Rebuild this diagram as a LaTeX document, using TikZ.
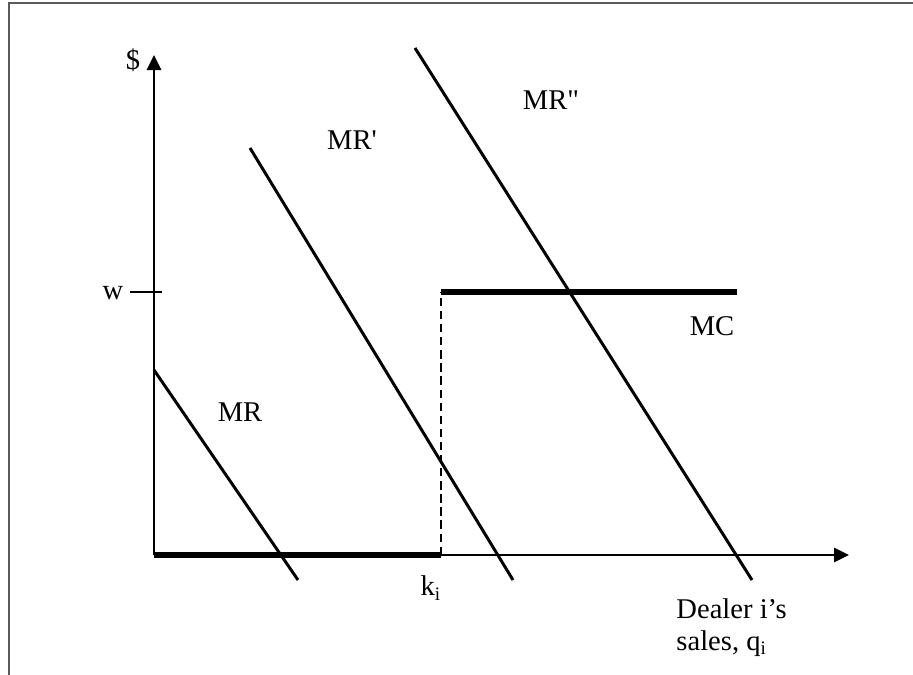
\documentclass[tikz,border=0pt]{standalone}
\usepackage{fontspec}
\setmainfont{Liberation Serif}
\usetikzlibrary{arrows.meta}

\begin{document}
\begin{tikzpicture}[x=0.42pt, y=-0.42pt,
  lab/.style={font=\fontsize{12}{13.6}\selectfont, inner sep=0pt},
  axis/.style={line width=0.85pt},
  mrline/.style={line width=1.25pt},
  cost/.style={line width=2.5pt},
  >={Triangle[length=6.3pt,width=6pt]}]
  \useasboundingbox (0,0) rectangle (913,675);
  \draw[line width=0.8pt, black!65] (9,675) -- (9,3) -- (913,3);
  % axes
  \coordinate (O) at (154,555);
  \coordinate (ytop) at (154,55);
  \coordinate (xend) at (849,555);
  \coordinate (k) at (441,555);
  \coordinate (kw) at (441,292);
  \coordinate (mcend) at (737,292);
  \draw[axis,->] (O) -- (ytop);
  \draw[axis,->] (O) -- (xend);
  \draw[axis] (130,292) -- (162,292);
  % marginal cost
  \draw[cost] (O) -- (k);
  \draw[line width=0.6pt, dash pattern=on 3.5pt off 2pt] (k) -- (kw);
  \draw[cost] (kw) -- (mcend);
  % marginal revenue curves
  \draw[mrline] (154,370) -- (298,580);
  \draw[mrline] (250,148) -- (513,580);
  \draw[mrline] (415,48) -- (752,580);
  % labels
  \node[lab] (dollar) at (133,60) {\$};
  \node[lab] (wlab) at (113,293) {w};
  \node[lab] (mclab) at (712,326) {MC};
  \node[lab] (mr) at (240,412) {MR};
  \node[lab] (mrp) at (352,140) {MR\textquotesingle};
  \node[lab] (mrpp) at (551,100) {MR\textquotedbl};
  \node[lab] (klab) at (431,588) {k\textsubscript{i}};
  \node[lab, align=left, anchor=north west] (qlab) at (676,598) {Dealer i’s\\sales, q\textsubscript{i}};
\end{tikzpicture}
\end{document}
